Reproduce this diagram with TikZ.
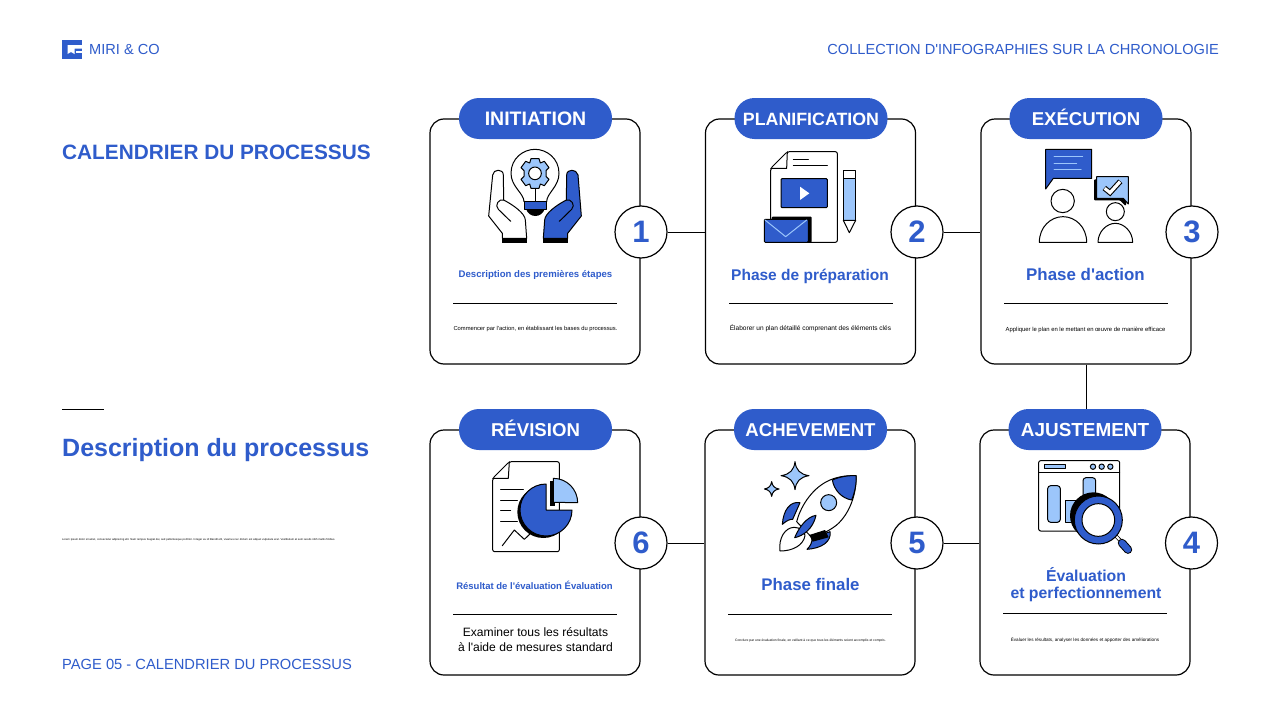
\documentclass[tikz,border=0pt]{standalone}
\usepackage{fontspec}
\setmainfont{Liberation Sans}[Ligatures=TeXOff]
\usepackage{xcolor}
\usetikzlibrary{positioning, calc}
\definecolor{miriblue}{HTML}{2F5CCB}
\definecolor{mirilight}{HTML}{9CC6FB}
\newcommand{\fsz}[1]{\fontsize{#1}{#1}\selectfont}

\begin{document}
\begin{tikzpicture}[
    x=1pt, y=-1pt,
    card/.style={rectangle, draw, line width=1.2pt, fill=white, rounded corners=14pt, minimum width=210pt, minimum height=245pt, inner sep=0pt},
    pill/.style={rectangle, fill=miriblue, rounded corners=20pt, minimum width=153pt, minimum height=41pt, inner sep=0pt, text=white, text height=13.5pt, text depth=0pt, font=\fsz{18.6}\bfseries},
    numcircle/.style={circle, draw, line width=1.2pt, fill=white, minimum size=52pt, inner sep=0pt, text=miriblue, font=\fsz{31}\bfseries},
    rulebar/.style={rectangle, fill=black, minimum width=164pt, minimum height=1pt, inner sep=0pt},
    link/.style={line width=1pt},
    headtext/.style={text=miriblue, font=\fsz{15.5}\bfseries, align=center, inner sep=0pt},
    subtext/.style={text=miriblue, font=\fsz{9.6}\bfseries, inner sep=0pt},
    desctext/.style={text=black, inner sep=0pt, align=center},
    lefttext/.style={text=miriblue, anchor=west, inner sep=0pt},
    ico/.style={line width=1pt, line join=round, line cap=round},
    icozoom/.style={scale=1/3}
]
\useasboundingbox (0,0) rectangle (1280,720);
\fill[white] (0,0) rectangle (1280,720);

% header and left column
\fill[miriblue] (62,40) rectangle (82,59);
\fill[white] (67.5,45) -- (82,45) -- (82,48.5) -- (74.5,48.5) -- (74.5,54) -- (71,52) -- (67.5,54) -- cycle;
\fill[white] (76,50.5) -- (82,50.5) -- (82,53) -- (76,53) -- cycle;
\node[lefttext, font=\fsz{14.6}] (brand) at (89,49.5) {MIRI \& CO};
\node[text=miriblue, anchor=east, inner sep=0pt, font=\fsz{14.6}] (collection) at (1219,49.5) {COLLECTION D'INFOGRAPHIES SUR LA CHRONOLOGIE};
\node[lefttext, font=\fsz{20.8}\bfseries] (calendar) at (62,152) {CALENDRIER DU PROCESSUS};
\node[rectangle, fill=black, minimum width=42pt, minimum height=1pt, inner sep=0pt] (shortbar) at (83,409) {};
\node[lefttext, font=\fsz{25}\bfseries] (process) at (62,450.5) {Description du processus};
\node[lefttext, text=black, font=\fsz{2.76}] (lorem) at (62,539.5) {Lorem ipsum dolor sit amet, consectetur adipiscing elit. Nam tempus feugiat dui, sed pellentesque porttitor. Integer eu id blandit elit, vivamus nec dictum est aliquet vulputate erat. Vestibulum at sem iaculis nibh mattis finibus.};
\node[lefttext, font=\fsz{14.7}] (pagenum) at (62,664.5) {PAGE 05 - CALENDRIER DU PROCESSUS};

% cards
\node[card] (card1) at (535,241.5) {};
\node[card] (card2) at (810.5,241.5) {};
\node[card] (card3) at (1086,241.5) {};
\node[card] (card6) at (535,552.5) {};
\node[card] (card5) at (810,552.5) {};
\node[card] (card4) at (1085,552.5) {};

% titles
\node[pill, font=\fsz{19.5}\bfseries] (title1) at (535.5,118.5) {INITIATION};
\node[pill, font=\fsz{17.8}\bfseries] (title2) at (811,118.5) {PLANIFICATION};
\node[pill] (title3) at (1086,118.5) {EXÉCUTION};
\node[pill] (title6) at (535.5,429.5) {RÉVISION};
\node[pill] (title5) at (810.5,429.5) {ACHEVEMENT};
\node[pill, font=\fsz{18.9}\bfseries] (title4) at (1085,429.5) {AJUSTEMENT};

% numbers
\node[numcircle] (num1) at (641,232) {1};
\node[numcircle] (num2) at (917,232) {2};
\node[numcircle] (num3) at (1192,232) {3};
\node[numcircle] (num6) at (641,543) {6};
\node[numcircle] (num5) at (917,543) {5};
\node[numcircle] (num4) at (1191.5,543) {4};

% connectors
\draw[link] (num1) -- (card2.west |- num1);
\draw[link] (num2) -- (card3.west |- num2);
\draw[link] (card3.south) -- (title4.north -| card3.south);
\draw[link] (num6) -- (card5.west |- num6);
\draw[link] (num5) -- (card4.west |- num5);

% card texts
\node[subtext] (sub1) at (535.5,274.5) {Description des premières étapes};
\node[headtext] (sub2) at (810,276) {Phase de préparation};
\node[headtext, font=\fsz{16.9}\bfseries] (sub3) at (1085.5,274) {Phase d'action};
\node[subtext, font=\fsz{9.5}\bfseries] (sub6) at (534.5,585.5) {Résultat de l'évaluation Évaluation};
\node[headtext, font=\fsz{16.8}\bfseries] (sub5) at (810.5,584.5) {Phase finale};
\node[headtext, font=\fsz{15.8}\bfseries, text depth=0pt] (sub4) at (1086,583) {Évaluation\\[0.5pt]et perfectionnement};

\node[rulebar] (rule1) at (535,303.5) {};
\node[rulebar] (rule2) at (811,303.5) {};
\node[rulebar] (rule3) at (1086,303.5) {};
\node[rulebar] (rule6) at (535,614.5) {};
\node[rulebar] (rule5) at (810,614.5) {};
\node[rulebar] (rule4) at (1085,613.5) {};

\node[desctext, font=\fsz{5.8}] (desc1) at (535.5,329) {Commencer par l'action, en établissant les bases du processus.};
\node[desctext, font=\fsz{6.55}] (desc2) at (810.5,328.5) {Élaborer un plan détaillé comprenant des éléments clés};
\node[desctext, font=\fsz{5.9}] (desc3) at (1085.5,329.5) {Appliquer le plan en le mettant en œuvre de manière efficace};
\node[desctext, font=\fsz{12.1}] (desc6) at (535.5,639.5) {Examiner tous les résultats\\[2.5pt]à l'aide de mesures standard};
\node[desctext, font=\fsz{3.33}] (desc5) at (810.5,640.5) {Conclure par une évaluation finale, en veillant à ce que tous les éléments soient accomplis et compris.};
\node[desctext, font=\fsz{4.6}] (desc4) at (1085,639.5) {Évaluer les résultats, analyser les données et apporter des améliorations};

% icon 1: bulb and hands
\begin{scope}[shift={(450,130)}, icozoom, ico]
\draw[fill=white] (222,215) .. controls (222,190) and (183,170) .. (183,130) .. controls (183,85) and (220,58) .. (255,58) .. controls (290,58) and (327,85) .. (327,130) .. controls (327,170) and (290,190) .. (290,215) -- cycle;
\draw (255,170) -- (255,215);
\draw[fill=mirilight] (243,86) -- (267,86) -- (271,99) -- (283,94) -- (297,113) -- (288,122) -- (288,139) -- (297,148) -- (283,167) -- (271,162) -- (267,175) -- (243,175) -- (239,162) -- (227,167) -- (213,148) -- (222,139) -- (222,122) -- (213,113) -- (227,94) -- (239,99) -- cycle;
\draw[fill=white] (255,130) circle (19);
\draw[fill=miriblue] (222,215) rectangle (290,237);
\fill[black] (228,237) -- (284,237) .. controls (280,250) and (268,258) .. (256,258) .. controls (244,258) and (232,250) .. (228,237) -- cycle;
\draw[fill=white] (157,325) -- (157,310) -- (116,258) -- (128,135) .. controls (130,116) and (160,116) .. (160,135) -- (161,210) .. controls (190,225) and (225,250) .. (226,270) -- (230,325) -- cycle;
\draw (182,274) -- (145,238) .. controls (132,225) and (148,205) .. (161,210);
\fill[black] (157,325) rectangle (230,338);
\draw[fill=miriblue] (353,325) -- (353,310) -- (394,258) -- (384,135) .. controls (380,116) and (350,116) .. (350,135) -- (349,210) .. controls (320,225) and (285,250) .. (284,270) -- (280,325) -- cycle;
\draw (328,274) -- (365,238) .. controls (378,225) and (362,205) .. (349,210);
\fill[black] (280,325) rectangle (353,338);
\end{scope}

% icon 2: page, envelope, pencil
\begin{scope}[shift={(750,140)}, icozoom, ico]
\draw[fill=white, rounded corners=2pt] (62,85) -- (112,35) -- (262,35) -- (262,307) -- (62,307) -- cycle;
\draw (62,85) -- (110,85) -- (112,35);
\draw (130,58) -- (175,58);
\draw (130,76) -- (232,76);
\draw[fill=miriblue, rounded corners=1pt] (93,116) rectangle (232,203);
\fill[white] (150,140) -- (178,160) -- (150,180) -- cycle;
\fill[black, rounded corners=1pt] (65,230) rectangle (185,307);
\draw[fill=miriblue, rounded corners=1pt] (43,238) rectangle (175,307);
\draw[mirilight] (45,240) -- (107,290) -- (170,240);
\draw[fill=white] (280,92) rectangle (317,115);
\draw[fill=mirilight] (280,115) rectangle (317,241);
\draw[fill=white] (280,241) -- (317,241) -- (298,278) -- cycle;
\end{scope}

% icon 3: two people with bubbles
\begin{scope}[shift={(1025,140)}, icozoom, ico]
\draw[fill=miriblue] (62,28) -- (200,28) -- (200,115) -- (85,115) -- (62,147) -- cycle;
\draw[mirilight] (87,48) -- (173,48);
\draw[mirilight] (87,69) -- (155,69);
\draw[mirilight] (87,89) -- (168,89);
\draw[fill=white] (113,183) circle (35);
\draw[fill=white] (43,307) .. controls (43,260) and (78,230) .. (114,230) .. controls (150,230) and (185,260) .. (185,307) -- cycle;
\draw[fill=white] (271,215) circle (27);
\draw[fill=white] (219,307) .. controls (219,275) and (245,250) .. (271,250) .. controls (297,250) and (323,275) .. (323,307) -- cycle;
\fill[black, rounded corners=1pt] (207,118) -- (225,118) -- (305,185) -- (302,198) -- (285,181) -- (207,181) -- cycle;
\draw[fill=mirilight] (215,110) -- (310,110) -- (310,192) -- (295,175) -- (215,175) -- cycle;
\draw[black, line width=5.4pt, line cap=butt, line join=miter] (238,144) -- (255,158) -- (286,124);
\draw[white, line width=3.2pt, line cap=butt, line join=miter] (239,145) -- (255,158) -- (285,125);
\end{scope}

% icon 6: report with pie
\begin{scope}[shift={(480,450)}, icozoom, ico]
\draw[fill=white, rounded corners=2pt] (38,85) -- (88,35) -- (238,35) -- (238,305) -- (38,305) -- cycle;
\draw (38,85) -- (85,85) -- (88,35);
\draw (62,117) -- (130,117);
\draw (62,150) -- (112,150);
\draw (62,182) -- (92,182);
\draw (62,214) -- (112,214);
\draw (67,287) -- (103,240) -- (133,268) -- (150,252);
\fill[black] (190,186) -- (190,108) arc (270:0:78) -- cycle;
\draw[fill=miriblue] (198,180) -- (198,102) arc (270:0:78) -- cycle;
\fill[black] (210,92) rectangle (225,168);
\draw[fill=mirilight] (220,157) -- (220,85) arc (270:360:73) -- cycle;
\end{scope}

% icon 5: rocket and stars
\begin{scope}[shift={(750,450)}, icozoom, ico]
\draw[fill=mirilight] (135,35) .. controls (138,60) and (150,73) .. (177,77) .. controls (150,81) and (138,95) .. (135,119) .. controls (132,95) and (120,81) .. (93,77) .. controls (120,73) and (132,60) .. (135,35) -- cycle;
\draw[fill=mirilight] (65,95) .. controls (67,108) and (74,115) .. (87,117) .. controls (74,119) and (67,126) .. (65,139) .. controls (63,126) and (56,119) .. (43,117) .. controls (56,115) and (63,108) .. (65,95) -- cycle;
\draw[fill=miriblue] (150,158) .. controls (120,153) and (100,180) .. (97,223) .. controls (110,212) and (120,207) .. (128,208) -- cycle;
\draw[fill=miriblue] (240,245) .. controls (245,275) and (215,295) .. (171,298) .. controls (182,287) and (186,278) .. (186,265) -- cycle;
\draw[fill=white] (90,303) .. controls (85,265) and (105,232) .. (133,232) .. controls (150,232) and (165,245) .. (165,257) .. controls (160,285) and (130,303) .. (90,303) -- cycle;
\draw[fill=white] (318,77) .. controls (250,75) and (205,100) .. (170,150) .. controls (155,172) and (145,195) .. (140,215) -- (185,262) .. controls (205,257) and (235,245) .. (260,225) .. controls (300,190) and (320,130) .. (318,77) -- cycle;
\draw[fill=miriblue] (318,77) .. controls (295,76) and (270,80) .. (247,90) .. controls (252,120) and (275,145) .. (305,150) .. controls (315,125) and (320,100) .. (318,77) -- cycle;
\draw[fill=mirilight] (236,158) circle (24);
\fill[black] (178,255) -- (225,240) -- (236,262) -- (188,275) -- cycle;
\draw[fill=miriblue] (198,196) .. controls (170,200) and (145,235) .. (134,263) .. controls (160,258) and (190,235) .. (198,196) -- cycle;
\end{scope}

% icon 4: chart and magnifier
\begin{scope}[shift={(1025,450)}, icozoom, ico]
\draw[fill=white, rounded corners=2pt] (41,32) rectangle (284,243);
\draw (41,68) -- (284,68);
\draw[fill=mirilight] (58,44) rectangle (120,56);
\draw[fill=mirilight] (204,50) circle (8);
\draw[fill=mirilight] (230,50) circle (8);
\draw[fill=mirilight] (256,50) circle (8);
\draw[fill=mirilight, rounded corners=3pt] (68,107) rectangle (106,217);
\draw[fill=mirilight] (122,150) rectangle (160,217);
\draw[fill=mirilight, rounded corners=3pt] (174,83) rectangle (212,217);
\draw[line width=3.6pt, line cap=butt] (270,255) -- (288,274);
\draw[white, line width=2pt, line cap=butt] (270,255) -- (288,274);
\draw[line width=8.4pt, line cap=round] (291,279) -- (309,299);
\draw[miriblue, line width=6.4pt, line cap=round] (291,279) -- (309,299);
\fill[black] (205,197) circle (70);
\draw[fill=miriblue] (220,210) circle (72);
\draw[fill=white] (220,210) circle (49);
\end{scope}

\end{tikzpicture}
\end{document}
